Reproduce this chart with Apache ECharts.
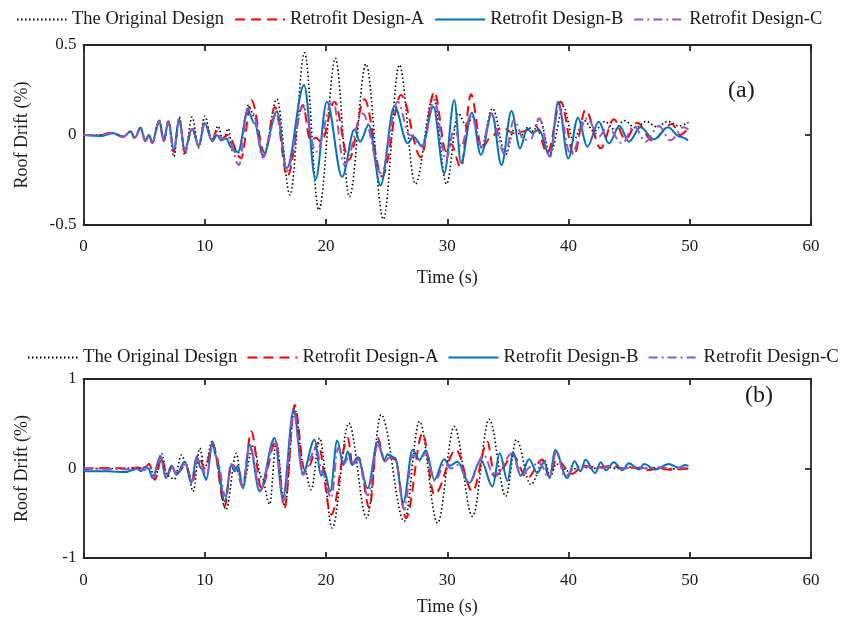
<!DOCTYPE html>
<html>
<head>
<meta charset="utf-8">
<script src="https://cdn.jsdelivr.net/npm/echarts@6/dist/echarts.min.js"></script>
<style>
html,body{margin:0;padding:0;background:#fff;}
#chart{width:841px;height:622px;}
</style>
</head>
<body>
<div id="chart"></div>
<script>
// ---------- DATA (time s, roof drift %) ----------
const seriesNames = ['The Original Design', 'Retrofit Design-A', 'Retrofit Design-B', 'Retrofit Design-C'];
const xTicks = [0, 10, 20, 30, 40, 50, 60];

// Panel (a)
const aOriginal = [[0,0],[1.5,0.0],[2.4,0.012],[3.3,-0.01],[3.9,0.02],[4.25,-0.015],[4.7,0.04],[5.1,-0.03],[5.4,0.0],[5.68,-0.045],[6.24,0.085],[6.63,-0.035],[7.0,0.08],[7.45,-0.12],[7.9,0.1],[8.35,-0.11],[8.96,0.1],[9.5,-0.07],[10.0,0.105],[10.6,-0.03],[11.1,0.05],[11.5,-0.03],[11.95,0.035],[12.3,-0.09],[12.75,-0.1],[13.6,0.165],[14.1,0.1],[14.85,-0.12],[15.95,0.2],[17.03,-0.333],[18.23,0.457],[19.41,-0.417],[20.78,0.426],[21.93,-0.343],[23.3,0.394],[24.73,-0.468],[26.05,0.389],[27.37,-0.272],[28.85,0.213],[29.94,-0.272],[30.9,0.12],[31.6,0.05],[32.1,0.1],[32.8,-0.07],[33.73,0.148],[34.83,-0.11],[35.5,0.03],[36.1,0.0],[36.7,0.045],[37.1,0.02],[37.6,0.09],[38.5,-0.1],[39.6,0.157],[40.4,-0.03],[41.3,0.08],[42.1,0.02],[43.0,0.075],[43.8,0.03],[44.6,0.08],[45.5,0.04],[46.4,0.075],[47.3,0.045],[48.2,0.075],[49.1,0.05],[49.9,0.07]];
const aDesignA = [[0,0],[1.5,0.0],[2.2,0.015],[3.3,-0.01],[3.88,0.02],[4.24,-0.02],[4.7,0.04],[5.1,-0.035],[5.4,-0.005],[5.67,-0.045],[6.24,0.075],[6.63,-0.035],[7.0,0.075],[7.45,-0.093],[7.89,0.085],[8.35,-0.095],[8.96,0.04],[9.5,-0.06],[10.0,0.07],[10.63,-0.03],[10.95,0.02],[11.4,-0.02],[11.9,0.0],[13.0,-0.13],[13.84,0.194],[14.94,-0.1],[15.8,0.155],[16.8,-0.23],[18.1,0.167],[18.7,-0.03],[19.2,-0.015],[19.6,-0.04],[20.7,0.185],[21.88,-0.139],[23.17,0.198],[24.62,-0.23],[26.19,0.222],[27.83,-0.124],[28.93,0.24],[29.9,-0.09],[30.3,-0.05],[31.13,-0.18],[31.95,0.226],[32.86,-0.074],[33.5,-0.02],[34.5,0.043],[35.5,0.01],[36.3,0.02],[37.3,0.05],[38.26,-0.1],[39.36,0.185],[40.45,-0.11],[41.4,0.139],[42.65,-0.074],[43.74,0.087],[44.7,-0.024],[45.66,0.068],[46.9,-0.03],[48.54,0.061],[49.2,0.0],[49.86,0.037]];
const aDesignB = [[0,0],[1.5,-0.005],[2.45,0.01],[3.28,-0.01],[3.88,0.02],[4.24,-0.015],[4.7,0.04],[5.1,-0.03],[5.4,0.0],[5.67,-0.04],[6.24,0.08],[6.63,-0.03],[7.0,0.076],[7.45,-0.08],[7.89,0.09],[8.35,-0.08],[8.96,0.035],[9.5,-0.06],[10.0,0.065],[10.63,-0.035],[11.0,0.0],[11.37,-0.03],[11.78,-0.02],[12.2,-0.07],[12.74,-0.095],[13.56,0.135],[14.1,0.065],[14.8,-0.115],[15.95,0.13],[16.76,-0.185],[18.19,0.278],[19.14,-0.246],[20.07,0.185],[21.33,-0.232],[22.35,0.03],[22.81,-0.037],[23.52,0.055],[24.49,-0.28],[25.64,0.16],[26.73,-0.046],[27.2,-0.01],[27.92,-0.06],[28.85,0.157],[29.75,-0.213],[30.58,0.194],[31.13,-0.154],[32.03,0.124],[32.77,-0.11],[33.68,0.12],[34.47,-0.167],[35.3,0.133],[36.0,-0.074],[36.6,0.037],[37.0,0.01],[37.57,0.03],[38.45,-0.12],[39.16,0.185],[39.98,-0.13],[40.78,0.096],[41.55,-0.065],[42.5,0.074],[43.33,-0.046],[44.21,0.05],[44.98,-0.037],[45.94,0.043],[47.04,-0.024],[48.2,0.043],[49.2,-0.01],[49.86,-0.03]];
const aDesignC = [[0,0],[1.5,0.0],[2.3,0.012],[3.3,-0.01],[3.88,0.02],[4.24,-0.015],[4.7,0.04],[5.1,-0.03],[5.4,0.0],[5.67,-0.04],[6.24,0.075],[6.63,-0.03],[7.0,0.07],[7.45,-0.085],[7.89,0.085],[8.35,-0.085],[8.96,0.035],[9.5,-0.055],[10.0,0.06],[10.63,-0.03],[11.0,0.01],[11.4,-0.025],[11.9,-0.01],[12.82,-0.167],[13.56,0.148],[14.0,0.12],[14.8,-0.125],[15.95,0.12],[16.76,-0.2],[18.1,0.157],[19.2,-0.093],[20.56,0.194],[21.52,-0.167],[23.03,0.12],[24.54,-0.213],[25.91,0.185],[26.9,0.0],[27.97,-0.065],[28.93,0.194],[29.89,-0.139],[30.6,0.04],[31.13,-0.065],[31.95,0.111],[32.86,-0.065],[33.6,0.117],[34.77,-0.11],[35.5,0.083],[36.34,-0.028],[36.9,-0.02],[37.57,0.093],[38.5,-0.12],[39.16,0.157],[40.18,-0.11],[41.55,0.093],[42.5,-0.009],[43.2,0.043],[44.43,-0.046],[45.4,0.05],[46.35,-0.037],[47.45,0.05],[48.4,-0.03],[49.5,0.043],[49.9,0.03]];

// Panel (b)
const bOriginal = [[0,0.0],[3,0.0],[4.5,0.01],[5.0,-0.01],[5.4,0.05],[5.9,-0.12],[6.44,0.17],[6.9,-0.08],[7.5,-0.12],[8.08,0.15],[8.5,0.04],[9.04,-0.256],[9.59,0.227],[10.0,0.0],[10.6,0.3],[11.76,-0.46],[12.6,0.17],[13.1,-0.2],[14.0,0.25],[14.7,-0.1],[15.35,-0.4],[15.9,0.3],[16.6,-0.42],[17.41,0.67],[18.2,0.0],[18.78,-0.237],[19.47,0.34],[20.51,-0.665],[21.88,0.506],[23.36,-0.553],[24.54,0.6],[26.46,-0.59],[27.7,0.525],[29.2,-0.61],[30.58,0.47],[32.08,-0.535],[33.46,0.55],[34.83,-0.31],[35.7,0.32],[36.89,-0.18],[38.0,0.1],[38.5,-0.09],[39.0,0.05],[40.0,-0.03],[41.0,0.02],[42.0,0.0],[43.0,0.02],[44.0,0.0],[45.0,0.015],[46.0,0.0],[47.0,0.01],[48.0,-0.005],[49.9,0.0]];
const bDesignA = [[0,0.0],[2,0.005],[4.0,0.0],[4.5,0.01],[5.0,-0.01],[5.4,0.05],[5.88,-0.126],[6.44,0.115],[6.9,-0.08],[7.3,0.02],[7.75,-0.05],[8.4,0.04],[9.0,-0.14],[9.45,0.15],[10.0,0.0],[10.68,0.264],[11.65,-0.424],[12.2,0.06],[12.6,0.0],[13.1,-0.2],[13.84,0.413],[14.67,-0.22],[15.85,0.3],[16.58,-0.442],[17.41,0.71],[18.23,-0.014],[18.6,0.03],[19.33,0.283],[20.43,-0.516],[21.8,0.34],[22.2,0.04],[22.7,0.12],[23.58,-0.442],[24.26,0.34],[24.85,0.08],[25.15,0.15],[25.7,0.1],[26.6,-0.553],[27.97,0.395],[28.93,-0.293],[30.72,0.208],[32.08,-0.256],[33.32,0.3],[33.9,-0.09],[34.5,0.0],[35.37,0.153],[36.6,-0.107],[37.85,0.1],[38.4,-0.09],[39.0,0.1],[40.3,-0.06],[41.2,0.03],[42.5,0.01],[43.5,0.03],[44.5,0.0],[45.5,0.01],[46.3,-0.02],[47.5,0.0],[48.5,-0.015],[49.9,0.0]];
const bDesignB = [[0,-0.03],[2,-0.03],[3.55,-0.04],[4.0,-0.02],[4.43,0.0],[4.73,-0.03],[5.06,0.02],[5.35,0.0],[5.69,-0.107],[6.35,0.14],[6.79,-0.107],[7.26,0.03],[7.67,-0.07],[8.35,0.078],[8.9,-0.163],[9.32,0.134],[9.7,0.0],[10.14,-0.126],[10.63,0.3],[10.93,0.134],[11.65,-0.368],[12.2,0.04],[12.47,-0.033],[12.74,0.03],[13.15,-0.22],[13.7,0.264],[14.53,-0.256],[15.76,0.34],[16.44,-0.33],[17.33,0.654],[18.09,-0.052],[19.05,0.32],[19.6,-0.08],[19.85,-0.02],[20.35,-0.256],[20.92,0.312],[21.44,0.04],[21.8,0.19],[22.15,0.04],[22.6,0.127],[23.44,-0.22],[24.26,0.3],[24.81,0.097],[25.08,0.16],[25.7,0.12],[26.38,-0.378],[27.14,0.208],[27.7,0.1],[28.25,0.2],[28.93,-0.126],[29.75,0.104],[30.2,0.03],[30.85,0.075],[31.8,-0.163],[32.77,0.097],[33.73,-0.2],[34.33,0.17],[34.97,-0.14],[35.43,0.178],[36.06,-0.08],[36.75,0.104],[37.43,-0.05],[38.0,0.07],[38.45,-0.107],[38.89,0.208],[39.9,-0.107],[40.5,0.08],[41.0,-0.03],[41.4,0.097],[42.2,-0.05],[42.65,0.07],[43.1,-0.02],[43.74,0.07],[44.43,-0.02],[44.98,0.06],[45.8,-0.01],[46.23,0.05],[47.18,-0.01],[48.27,0.05],[49.1,0.01],[49.6,0.04],[49.9,0.03]];
const bDesignC = [[0,0.0],[2,-0.005],[4.0,-0.01],[4.5,0.0],[5.0,-0.02],[5.4,0.03],[5.75,-0.1],[6.4,0.12],[6.8,-0.09],[7.3,0.02],[7.7,-0.06],[8.4,0.05],[8.95,-0.14],[9.4,0.13],[9.8,0.0],[10.15,-0.1],[10.65,0.27],[11.0,0.12],[11.7,-0.31],[12.2,0.05],[12.6,-0.02],[13.15,-0.2],[13.7,0.26],[14.6,-0.24],[15.8,0.32],[16.5,-0.36],[17.33,0.63],[18.1,-0.07],[19.2,0.23],[19.7,-0.05],[20.43,-0.33],[21.0,0.23],[21.5,0.06],[21.85,0.12],[22.2,0.04],[22.65,0.1],[23.44,-0.3],[24.26,0.26],[24.9,0.08],[25.2,0.12],[25.7,0.1],[26.46,-0.46],[27.14,0.15],[27.7,0.09],[28.25,0.17],[29.0,-0.14],[29.8,0.06],[30.3,0.0],[30.9,0.04],[31.8,-0.16],[33.0,0.15],[33.9,-0.09],[35.37,0.17],[36.06,-0.08],[36.9,0.02],[37.6,0.07],[38.4,-0.11],[39.0,0.19],[39.7,-0.09],[40.5,0.0],[41.5,0.02],[42.5,0.0],[43.5,0.02],[44.5,0.0],[45.5,0.02],[46.5,0.0],[47.5,0.015],[48.5,0.0],[49.9,0.01]];

// ---------- STYLE ----------
const FONT = 'Liberation Serif';
const TXT = '#1a1a1a';
const FRAME = '#262626';
const styles = [
  {color:'#000000', width:1.6, type:[1.5,2.5]},
  {color:'#FF0000', width:2, type:[10,6]},
  {color:'#0072BD', width:2, type:'solid'},
  {color:'#9457C9', width:2, type:[9,4,2,4]}
];

function mkSeries(name, data, idx, ax){
  const s = styles[idx];
  return {
    name, type:'line', data, xAxisIndex:ax, yAxisIndex:ax,
    symbol:'none', smooth:0.35, smoothMonotone:'x',
    lineStyle:{color:s.color, width:s.width, type:s.type},
    itemStyle:{color:s.color}, z: 2+idx
  };
}

function xAx(grid, pos, showLabel, showName, margin, gap){
  return {
    type:'value', gridIndex:grid, position:pos, min:0, max:60, interval:10,
    axisLine:{show:true, onZero:false, lineStyle:{color:FRAME, width:1.8}},
    axisTick:{show:true, inside:true, length:6, lineStyle:{color:FRAME, width:1.8}},
    axisLabel:{show:showLabel, margin:margin, color:TXT, fontFamily:FONT, fontSize:17,
      formatter: v => xTicks.includes(v) ? String(v) : ''},
    splitLine:{show:false},
    name: showName ? 'Time (s)' : '', nameLocation:'middle', nameGap:gap,
    nameTextStyle:{color:TXT, fontFamily:FONT, fontSize:18}
  };
}
function yAx(grid, pos, lim, showLabel){
  return {
    type:'value', gridIndex:grid, position:pos, min:-lim, max:lim, interval:lim,
    axisLine:{show:true, onZero:false, lineStyle:{color:FRAME, width:1.8}},
    axisTick:{show:true, inside:true, length:6, lineStyle:{color:FRAME, width:1.8}},
    axisLabel:{show:showLabel, margin:7, color:TXT, fontFamily:FONT, fontSize:17},
    splitLine:{show:false},
    name: showLabel ? 'Roof Drift (%)' : '', nameLocation:'middle', nameGap:52, nameRotate:90,
    nameTextStyle:{color:TXT, fontFamily:FONT, fontSize:18}
  };
}

const chart = echarts.init(document.getElementById('chart'), null, {renderer:'canvas'});
function mkLegend(left, top, fs, gap){
  return {
    orient:'horizontal', left:left, top:top, width:900, itemWidth:50, itemHeight:14, itemGap:gap,
    padding:0,
    itemStyle:{opacity:0},
    textStyle:{color:TXT, fontFamily:FONT, fontSize:fs},
    data: seriesNames
  };
}
chart.setOption({
  animation:false,
  backgroundColor:'#fff',
  grid:[
    {left:83.5, top:45, width:727.5, height:180},
    {left:83.5, top:379, width:727.5, height:179}
  ],
  legend:[ mkLegend(16, 10, 18.5, 10), mkLegend(27, 348, 18.8, 9) ],
  xAxis:[ xAx(0,'bottom',true,true,13,44), xAx(0,'top',false,false,13,44), xAx(1,'bottom',true,true,14,40), xAx(1,'top',false,false,14,40) ],
  yAxis:[ yAx(0,'left',0.5,true), yAx(0,'right',0.5,false), yAx(1,'left',1,true), yAx(1,'right',1,false) ],
  series:[
    mkSeries(seriesNames[0], aOriginal, 0, 0),
    mkSeries(seriesNames[1], aDesignA, 1, 0),
    mkSeries(seriesNames[2], aDesignB, 2, 0),
    mkSeries(seriesNames[3], aDesignC, 3, 0),
    mkSeries(seriesNames[0], bOriginal, 0, 2),
    mkSeries(seriesNames[1], bDesignA, 1, 2),
    mkSeries(seriesNames[2], bDesignB, 2, 2),
    mkSeries(seriesNames[3], bDesignC, 3, 2)
  ],
  graphic:[
    {type:'text', left:728, top:79, style:{text:'(a)', fill:TXT, font:'24px "Liberation Serif"'}},
    {type:'text', left:745, top:384, style:{text:'(b)', fill:TXT, font:'24px "Liberation Serif"'}}
  ]
});
</script>
</body>
</html>
